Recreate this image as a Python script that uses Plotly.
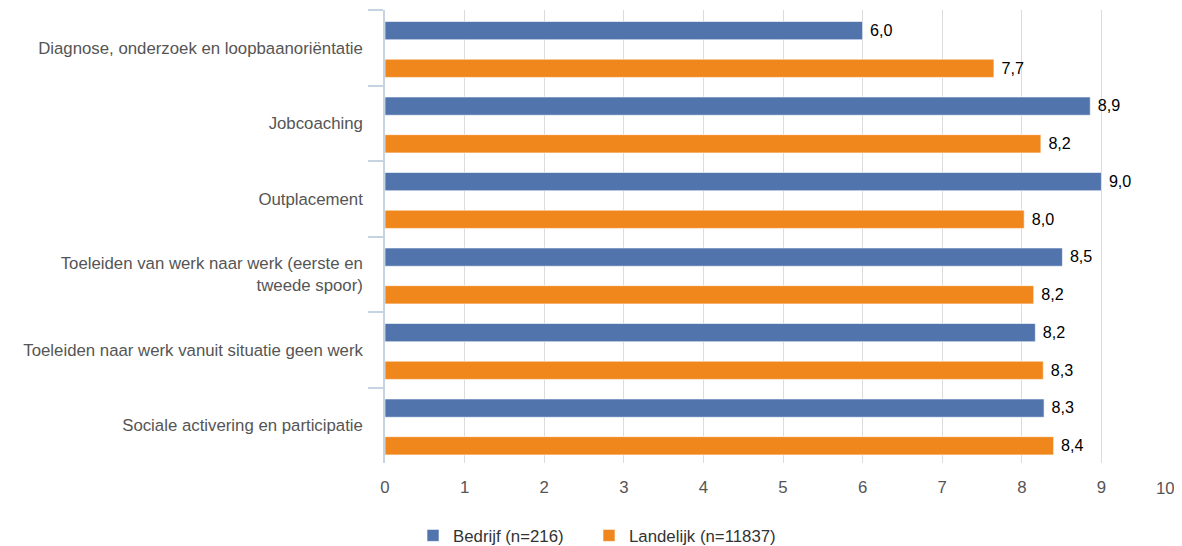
import plotly.graph_objects as go

categories = [
    "Diagnose, onderzoek en loopbaanoriëntatie",
    "Jobcoaching",
    "Outplacement",
    "Toeleiden van werk naar werk (eerste en<br>tweede spoor)",
    "Toeleiden naar werk vanuit situatie geen werk",
    "Sociale activering en participatie",
]
bedrijf = [6.0, 8.86, 9.0, 8.51, 8.17, 8.28]
landelijk = [7.65, 8.24, 8.03, 8.15, 8.27, 8.40]
series_names = ["Bedrijf (n=216)", "Landelijk (n=11837)"]
x_ticks = [0, 1, 2, 3, 4, 5, 6, 7, 8, 9, 10]

BLUE = "#5174AD"
ORANGE = "#F0871C"
FONT = "Liberation Sans, Arial, sans-serif"
FS = 16.8


def lab(vals):
    return ["\u00a0" + f"{v:.1f}".replace(".", ",") for v in vals]


fig = go.Figure()
specs = [
    (series_names[0], bedrijf, BLUE, -0.348, "legend"),
    (series_names[1], landelijk, ORANGE, 0.151, "legend2"),
]
for name, vals, col, off, leg in specs:
    fig.add_trace(go.Bar(
        y=categories, x=vals, orientation="h", name=name,
        width=0.242, offset=off, legend=leg,
        marker=dict(color=col, line=dict(color="rgba(255,255,255,0.6)", width=1)),
        text=lab(vals), textposition="outside", cliponaxis=False,
        textfont=dict(family=FONT, size=FS, color="#000000"),
        hoverinfo="x+y",
    ))

legend_common = dict(
    orientation="h", xref="paper", yref="paper",
    xanchor="left", y=-0.160, yanchor="middle",
    font=dict(family=FONT, size=FS, color="#333333"),
    bgcolor="rgba(0,0,0,0)",
)

# the page body has an 8px default margin, so the figure is 8px smaller
fig.update_layout(
    width=1174, height=538,
    margin=dict(l=377, r=1, t=2, b=83, autoexpand=False),
    paper_bgcolor="white", plot_bgcolor="white",
    barmode="group",
    font=dict(family=FONT, size=FS, color="#555555"),
    showlegend=True,
    legend=dict(x=0.0352, **legend_common),
    legend2=dict(x=0.2563, **legend_common),
)

fig.update_xaxes(
    range=[0, 10], tickvals=x_ticks[:-1], ticktext=[str(t) for t in x_ticks[:-1]],
    showgrid=True, gridcolor="#DCDCDC", gridwidth=1,
    zeroline=False, showline=False, ticks="",
    ticklabelstandoff=12, automargin=False,
    tickfont=dict(family=FONT, size=FS, color="#555555"),
)
fig.update_yaxes(
    type="category", autorange="reversed",
    showgrid=False, zeroline=False,
    showline=True, linecolor="#C6D4E2", linewidth=1.5,
    ticks="outside", tickson="boundaries", ticklen=15, tickcolor="#C6D4E2", tickwidth=1.5,
    ticklabelstandoff=17, automargin=False,
    tickfont=dict(family=FONT, size=FS, color="#555555"),
)

# last x tick label at the right edge, right-aligned so it stays in view
fig.add_annotation(
    x=x_ticks[-1], xref="x", y=0, yref="paper", yshift=-25, xshift=-4,
    text=str(x_ticks[-1]), showarrow=False, xanchor="right", yanchor="middle",
    font=dict(family=FONT, size=FS, color="#555555"),
)

fig.write_html("out.html")
